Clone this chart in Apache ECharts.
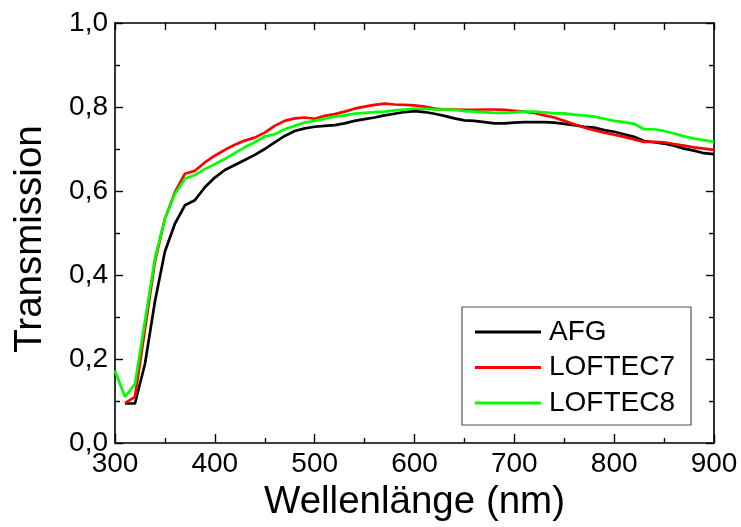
<!DOCTYPE html>
<html>
<head>
<meta charset="utf-8">
<script src="https://cdn.jsdelivr.net/npm/echarts@6/dist/echarts.min.js"></script>
<style>
html,body{margin:0;padding:0;background:#fff;}
#chart{width:741px;height:527px;}
</style>
</head>
<body>
<div id="chart"></div>
<script>
var wavelengths = [300,310,320,330,340,350,360,370,380,390,400,410,420,430,440,450,460,470,480,490,500,510,520,530,540,550,560,570,580,590,600,610,620,630,640,650,660,670,680,690,700,710,720,730,740,750,760,770,780,790,800,810,820,830,840,850,860,870,880,890,900];
var afg = [null,0.094,0.094,0.188,0.337,0.456,0.522,0.566,0.578,0.609,0.632,0.650,0.662,0.674,0.686,0.700,0.716,0.731,0.743,0.749,0.753,0.755,0.757,0.761,0.767,0.771,0.775,0.780,0.784,0.788,0.790,0.788,0.784,0.779,0.773,0.768,0.767,0.764,0.761,0.761,0.763,0.764,0.764,0.764,0.763,0.760,0.757,0.753,0.751,0.745,0.741,0.735,0.729,0.719,0.716,0.713,0.708,0.701,0.696,0.690,0.688];
var loftec7 = [null,0.095,0.110,0.271,0.432,0.534,0.597,0.641,0.648,0.668,0.684,0.698,0.710,0.720,0.727,0.739,0.755,0.767,0.773,0.775,0.772,0.779,0.783,0.789,0.796,0.801,0.805,0.808,0.806,0.805,0.804,0.801,0.796,0.794,0.794,0.793,0.793,0.794,0.794,0.793,0.791,0.789,0.786,0.780,0.775,0.767,0.759,0.751,0.745,0.739,0.734,0.729,0.723,0.717,0.717,0.716,0.712,0.708,0.704,0.701,0.698];
var loftec8 = [0.172,0.110,0.140,0.290,0.440,0.534,0.593,0.629,0.638,0.652,0.664,0.676,0.690,0.704,0.716,0.730,0.735,0.747,0.755,0.763,0.767,0.772,0.777,0.780,0.784,0.786,0.788,0.789,0.792,0.794,0.796,0.796,0.794,0.794,0.793,0.790,0.789,0.788,0.786,0.786,0.787,0.789,0.789,0.787,0.785,0.785,0.782,0.780,0.777,0.772,0.767,0.764,0.760,0.747,0.747,0.743,0.737,0.730,0.725,0.721,0.717];
var seriesNames = ['AFG','LOFTEC7','LOFTEC8'];
var seriesColors = ['#000000','#ff0000','#00ff00'];
var xTitle = 'Wellenlänge (nm)';
var yTitle = 'Transmission';

function pairs(vals){
  return wavelengths.map(function(w,i){ return [w, vals[i]]; });
}
var font = 'Liberation Sans, Arial, sans-serif';
var chart = echarts.init(document.getElementById('chart'), null, {renderer:'canvas'});
var allVals = [afg, loftec7, loftec8];
var series = seriesNames.map(function(n,i){
  return {
    name: n, type: 'line', data: pairs(allVals[i]),
    showSymbol: false, symbol: 'none', connectNulls: false,
    lineStyle: {color: seriesColors[i], width: 2.7},
    itemStyle: {color: seriesColors[i]},
    color: seriesColors[i],
    z: 2 + i
  };
});
var axisLine = {show:true, onZero:false, lineStyle:{color:'#000', width:1.6}};
chart.setOption({
  animation: false,
  backgroundColor: '#fff',
  grid: {left:115, right:27, top:23, bottom:81, containLabel:false},
  legend: {
    data: seriesNames,
    orient: 'vertical',
    left: 462, top: 307,
    padding: [10, 16, 7, 13],
    itemWidth: 66, itemHeight: 3,
    itemGap: 5.5,
    icon: 'rect',
    borderColor: '#555', borderWidth: 1.2,
    textStyle: {fontFamily: font, fontSize: 28, color:'#000', lineHeight: 30, padding:[0,0,0,3]}
  },
  xAxis: [{
    type:'value', min:300, max:900, interval:100, position:'bottom',
    axisLine: axisLine,
    axisTick:{show:true, inside:true, length:9, lineStyle:{color:'#000', width:1.4}},
    minorTick:{show:true, splitNumber:2, length:5, lineStyle:{color:'#000', width:1.4}},
    splitLine:{show:false},
    axisLabel:{fontFamily:font, fontSize:28, color:'#000', margin:7},
    name: xTitle, nameLocation:'middle', nameGap:40,
    nameTextStyle:{fontFamily:font, fontSize:38.5, color:'#000'}
  },{
    type:'value', min:300, max:900, interval:50, position:'top',
    axisLine: axisLine,
    axisTick:{show:true, inside:true, length:7, lineStyle:{color:'#000', width:1.4}},
    splitLine:{show:false}, axisLabel:{show:false}
  }],
  yAxis: [{
    type:'value', min:0, max:1, interval:0.2, position:'left',
    axisLine: axisLine,
    axisTick:{show:true, inside:true, length:8, lineStyle:{color:'#000', width:1.4}},
    minorTick:{show:true, splitNumber:2, length:5, lineStyle:{color:'#000', width:1.4}},
    splitLine:{show:false},
    axisLabel:{fontFamily:font, fontSize:28, color:'#000', margin:7,
      formatter:function(v){ return v.toFixed(1).replace('.', ','); }},
    name: yTitle, nameLocation:'middle', nameGap:65, nameRotate:90,
    nameTextStyle:{fontFamily:font, fontSize:38.5, color:'#000', padding:[0,12,0,0]}
  },{
    type:'value', min:0, max:1, interval:0.2, position:'right',
    axisLine: axisLine,
    axisTick:{show:true, inside:true, length:8, lineStyle:{color:'#000', width:1.4}},
    minorTick:{show:true, splitNumber:2, length:5, lineStyle:{color:'#000', width:1.4}},
    splitLine:{show:false}, axisLabel:{show:false}
  }],
  series: series
});
</script>
</body>
</html>
